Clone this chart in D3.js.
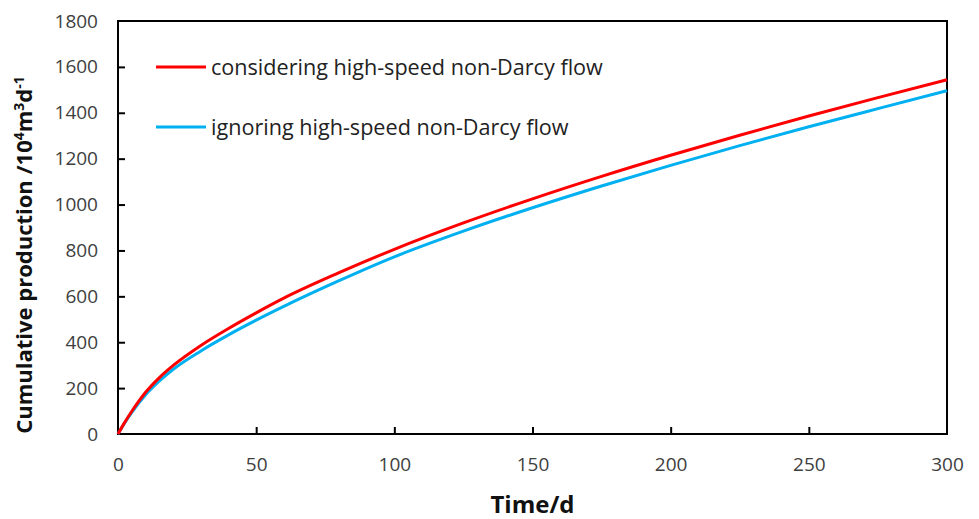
<!DOCTYPE html>
<html>
<head>
<meta charset="utf-8">
<script src="https://cdn.jsdelivr.net/npm/d3@7"></script>
<style>
  html, body { margin: 0; padding: 0; background: #fff; }
</style>
</head>
<body>
<div id="container"></div>
<script>
const days = [0, 2, 5, 10, 15, 20, 30, 40, 50, 60, 80, 100, 125, 150, 175, 200, 225, 250, 275, 300]
const considering = [0, 42, 99, 182, 246, 299, 386, 460, 528, 592, 703, 805, 920, 1025, 1123, 1215, 1302, 1386, 1466, 1544]
const ignoring = [0, 40, 94, 171, 231, 282, 362, 432, 496, 556, 668, 772, 884, 986, 1081, 1171, 1257, 1339, 1418, 1496]
const seriesNames = ['considering high-speed non-Darcy flow', 'ignoring high-speed non-Darcy flow']
const xTicks = [0, 50, 100, 150, 200, 250, 300]
const yTicks = [0, 200, 400, 600, 800, 1000, 1200, 1400, 1600, 1800]

const width = 979
const height = 519
const margins = { top: 21, bottom: 85, left: 118, right: 32 }
const font = '"Open Sans", "Noto Sans", sans-serif'

const svg = d3.select('#container')
  .append('svg')
  .attr('width', width)
  .attr('height', height)
  .attr('viewBox', [0, 0, width, height])

const x = d3.scaleLinear([0, 300], [margins.left, width - margins.right])
const y = d3.scaleLinear([0, 1800], [height - margins.bottom, margins.top])

const colors = ['#ff0000', '#00b0f0']
const series = [considering, ignoring].map((vals, i) => ({
  name: seriesNames[i],
  color: colors[i],
  points: days.map((d, j) => [d, vals[j]])
}))

// frame
svg.append('rect')
  .attr('x', x(0))
  .attr('y', y(1800))
  .attr('width', x(300) - x(0))
  .attr('height', y(0) - y(1800))
  .style('fill', 'none')
  .style('stroke', '#000')
  .style('stroke-width', 2)

const xAxis = svg.append('g')
  .attr('transform', `translate(0,${ y(0) })`)
  .call(d3.axisBottom(x).tickValues(xTicks).tickFormat(d3.format('d'))
    .tickSizeInner(-7).tickSizeOuter(0).tickPadding(24))

const yAxis = svg.append('g')
  .attr('transform', `translate(${ x(0) },0)`)
  .call(d3.axisLeft(y).tickValues(yTicks).tickFormat(d3.format('d'))
    .tickSizeInner(-7).tickSizeOuter(0).tickPadding(20))

for (const ax of [xAxis, yAxis]) {
  ax.select('.domain').remove()
  ax.selectAll('line').style('stroke', '#000').style('stroke-width', 2)
  ax.selectAll('text')
    .style('font-family', font)
    .style('font-size', '19px')
    .style('fill', '#404040')
}
// drop ticks sitting on the frame edges
xAxis.selectAll('.tick line').filter(d => d === 0 || d === 300).remove()
yAxis.selectAll('.tick line').filter(d => d === 0 || d === 1800).remove()

const line = d3.line()
  .x(d => x(d[0]))
  .y(d => y(d[1]))
  .curve(d3.curveMonotoneX)

svg.append('g')
  .selectAll('path')
  .data(series.slice().reverse())
  .join('path')
  .attr('d', d => line(d.points))
  .style('fill', 'none')
  .style('stroke', d => d.color)
  .style('stroke-width', 3)

// legend
const legend = svg.append('g')
  .selectAll('g')
  .data(series)
  .join('g')
  .attr('transform', (d, i) => `translate(156,${ 67 + i * 60 })`)

legend.append('line')
  .attr('x1', 0)
  .attr('x2', 50)
  .style('stroke', d => d.color)
  .style('stroke-width', 3)

legend.append('text')
  .attr('x', 55)
  .attr('dy', '0.35em')
  .style('font-family', font)
  .style('font-size', '21.6px')
  .style('fill', '#222')
  .text(d => d.name)

// axis titles
svg.append('text')
  .attr('x', (x(0) + x(300)) / 2)
  .attr('y', 513)
  .attr('text-anchor', 'middle')
  .style('font-family', font)
  .style('font-size', '24px')
  .style('font-weight', 'bold')
  .style('fill', '#111')
  .text('Time/d')

const yTitle = svg.append('text')
  .attr('transform', `translate(32,${ 255 }) rotate(-90)`)
  .attr('text-anchor', 'middle')
  .style('font-family', font)
  .style('font-size', '22px')
  .style('font-weight', 'bold')
  .style('fill', '#111')

const titleParts = [
  ['Cumulative production /10', 0],
  ['4', 1],
  ['m', 0],
  ['3', 1],
  ['d', 0],
  ['-1', 1]
]
let up = false
titleParts.forEach(([t, sup]) => {
  const ts = yTitle.append('tspan').text(t)
  if (sup && !up) { ts.attr('dy', -8).style('font-size', '14px'); up = true }
  else if (sup) { ts.style('font-size', '14px') }
  else if (up) { ts.attr('dy', 8); up = false }
})
</script>
</body>
</html>
